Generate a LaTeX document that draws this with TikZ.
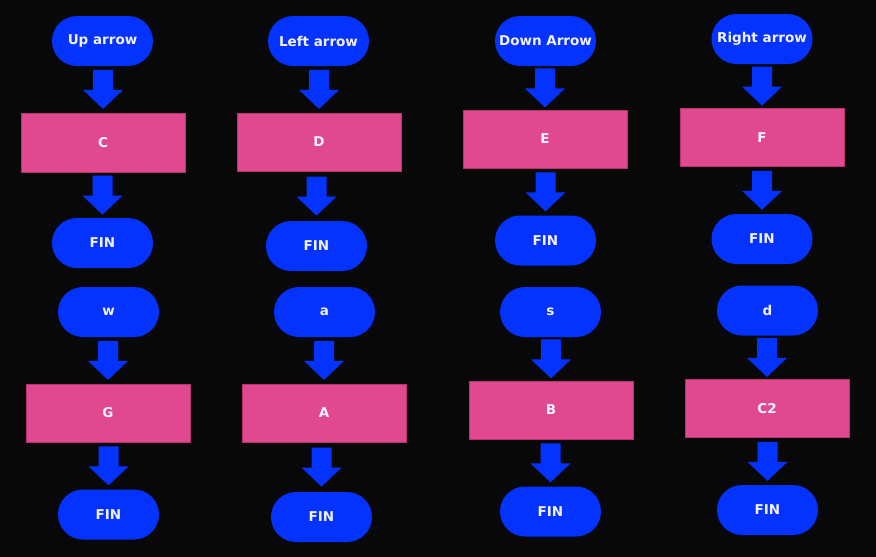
\documentclass[tikz,border=0pt]{standalone}
\usepackage{fontspec}
\setmainfont{DejaVu Sans}
\usetikzlibrary{calc}
\definecolor{bg}{HTML}{080808}
\definecolor{fcblue}{HTML}{0433FF}
\definecolor{fcpink}{HTML}{E04890}
\definecolor{fcpinkedge}{HTML}{B8326E}
\definecolor{fctext}{HTML}{F2F2FF}
\tikzset{
  term/.style={fill=fcblue, draw=none, rounded corners=25pt, minimum width=101pt, minimum height=50pt, inner sep=0pt, text=fctext, font=\fontsize{13.5}{15}\selectfont\bfseries},
  proc/.style={fill=fcpink, draw=fcpinkedge, line width=0.8pt, minimum width=164pt, minimum height=58pt, inner sep=0pt, text=fctext, font=\fontsize{13.5}{15}\selectfont\bfseries},
}
\newcommand\blockarr[2]{%
  \fill[fcblue] let \p1=(#1.south), \p2=(#2.north), \n1={(\y1+\y2)/2} in
    (\x2-10pt,\n1+19.5pt) -- (\x2+10pt,\n1+19.5pt) -- (\x2+10pt,\n1-0.5pt) -- (\x2+20pt,\n1-0.5pt)
    -- (\x2,\n1-19.5pt) -- (\x2-20pt,\n1-0.5pt) -- (\x2-10pt,\n1-0.5pt) -- cycle;}
\begin{document}
\begin{tikzpicture}[x=1pt,y=-1pt]
\fill[bg] (0,0) rectangle (876,557);
\useasboundingbox (0,0) rectangle (876,557);
% column 1
\node[term] (up) at (102.5,41) {Up arrow};
\node[proc, minimum height=59pt] (C) at (103,142.5) {C};
\node[term] (fin1) at (102.5,243) {FIN};
\node[term] (w) at (108.5,312) {w};
\node[proc] (G) at (108,413) {G};
\node[term] (fin2) at (108.5,514.5) {FIN};
% column 2
\node[term] (left) at (318.5,41) {Left arrow};
\node[proc] (D) at (319,142) {D};
\node[term] (fin3) at (316.5,246) {FIN};
\node[term] (a) at (324.5,312) {a};
\node[proc] (A) at (324,413) {A};
\node[term] (fin4) at (321.5,517) {FIN};
% column 3
\node[term] (down) at (545.5,41) {Down Arrow};
\node[proc] (E) at (545,139) {E};
\node[term] (fin5) at (545.5,240.5) {FIN};
\node[term] (s) at (550.5,312) {s};
\node[proc] (B) at (551,410) {B};
\node[term] (fin6) at (550.5,511.5) {FIN};
% column 4
\node[term] (right) at (762,39) {Right arrow};
\node[proc] (F) at (762,137.5) {F};
\node[term] (fin7) at (762,239) {FIN};
\node[term] (d) at (767.5,310.5) {d};
\node[proc] (C2) at (767,408.5) {C2};
\node[term] (fin8) at (767.5,510) {FIN};
% arrows
\blockarr{up}{C}\blockarr{C}{fin1}\blockarr{w}{G}\blockarr{G}{fin2}
\blockarr{left}{D}\blockarr{D}{fin3}\blockarr{a}{A}\blockarr{A}{fin4}
\blockarr{down}{E}\blockarr{E}{fin5}\blockarr{s}{B}\blockarr{B}{fin6}
\blockarr{right}{F}\blockarr{F}{fin7}\blockarr{d}{C2}\blockarr{C2}{fin8}
\end{tikzpicture}
\end{document}
